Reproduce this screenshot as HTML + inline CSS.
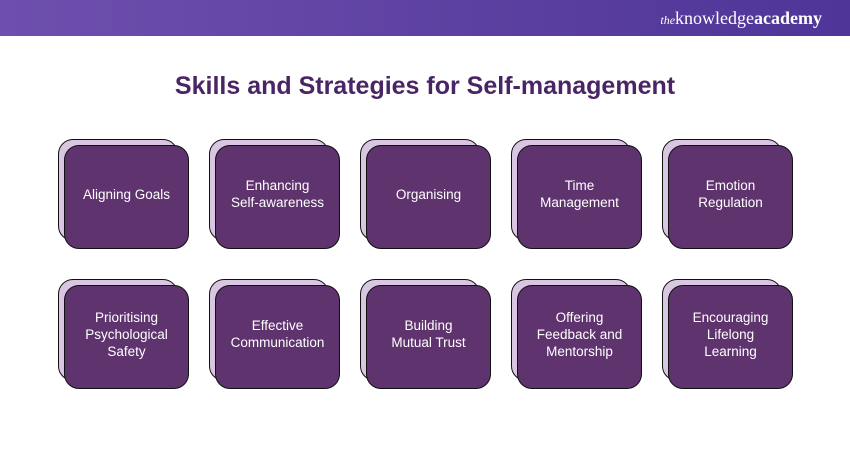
<!DOCTYPE html>
<html><head><style>
body{margin:0;width:850px;height:450px;background:#fff;position:relative;overflow:hidden;font-family:"Liberation Sans",sans-serif}
.hdr{position:absolute;left:0;top:0;width:850px;height:36px;background:linear-gradient(90deg,#6e4fae,#4e3597)}
.logo{position:absolute;right:28px;top:8px;color:#fff;font-family:"Liberation Serif",serif;font-size:18px}
.logo i{font-size:12px}
.title{position:absolute;left:0;width:850px;top:72px;text-align:center;font-size:25px;font-weight:bold;color:#4a2566}
.b{position:absolute;width:118px;height:100px;background:#d9c6e3;border:1.5px solid #111;border-radius:15px}
.f{position:absolute;width:123px;height:96px;padding-bottom:6px;background:#5f336e;border:1.5px solid #111;border-radius:15px;color:#fff;font-size:13.5px;display:flex;align-items:center;justify-content:center;text-align:center;line-height:17px}
</style></head><body>
<div class="hdr"></div>
<div class="logo"><i>the</i>knowledge<b>academy</b></div>
<div class="title">Skills and Strategies for Self-management</div>
<div class="b" style="left:58px;top:139px"></div><div class="f" style="left:64px;top:145px">Aligning Goals</div>
<div class="b" style="left:209px;top:139px"></div><div class="f" style="left:215px;top:145px">Enhancing<br>Self-awareness</div>
<div class="b" style="left:360px;top:139px"></div><div class="f" style="left:366px;top:145px">Organising</div>
<div class="b" style="left:511px;top:139px"></div><div class="f" style="left:517px;top:145px">Time<br>Management</div>
<div class="b" style="left:662px;top:139px"></div><div class="f" style="left:668px;top:145px">Emotion<br>Regulation</div>
<div class="b" style="left:58px;top:279px"></div><div class="f" style="left:64px;top:285px">Prioritising<br>Psychological<br>Safety</div>
<div class="b" style="left:209px;top:279px"></div><div class="f" style="left:215px;top:285px">Effective<br>Communication</div>
<div class="b" style="left:360px;top:279px"></div><div class="f" style="left:366px;top:285px">Building<br>Mutual Trust</div>
<div class="b" style="left:511px;top:279px"></div><div class="f" style="left:517px;top:285px">Offering<br>Feedback and<br>Mentorship</div>
<div class="b" style="left:662px;top:279px"></div><div class="f" style="left:668px;top:285px">Encouraging<br>Lifelong<br>Learning</div>
</body></html>
